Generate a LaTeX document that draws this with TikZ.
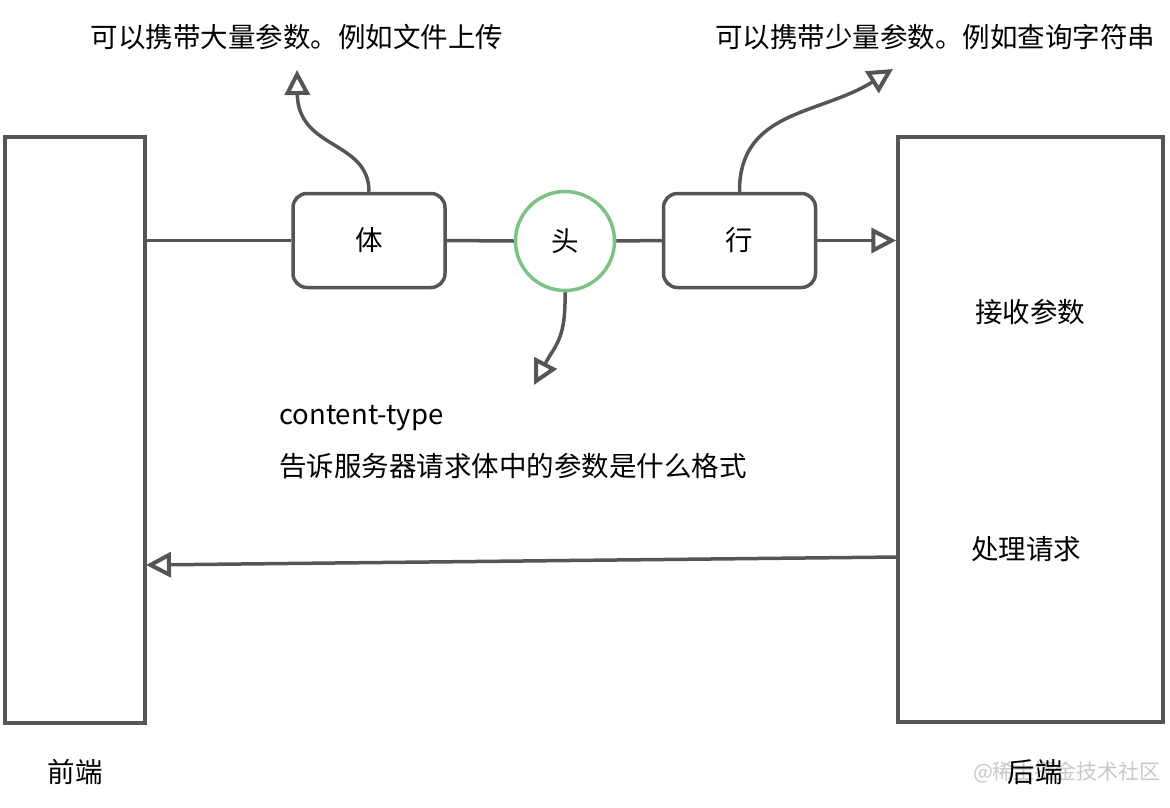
\documentclass[tikz,border=0pt]{standalone}
\usepackage{fontspec}
\setmainfont{Noto Sans CJK SC}
\usepackage{tikz}
\usetikzlibrary{arrows.meta, positioning, calc}
\definecolor{linegray}{RGB}{85, 85, 85}
\definecolor{headgreen}{RGB}{124, 194, 134}
\definecolor{markgray}{RGB}{200, 200, 200}

\begin{document}
\begin{tikzpicture}[
        x=1pt, y=-1pt,
        side/.style={rectangle, draw=linegray, line width=3.5pt, fill=white},
        part/.style={rectangle, draw=linegray, line width=3.5pt, rounded corners=14pt, minimum width=152pt, minimum height=94pt, font=\fontsize{27.5}{32}\selectfont},
        head/.style={circle, draw=headgreen, line width=3.5pt, minimum size=99pt, inner sep=0pt, font=\fontsize{27.5}{32}\selectfont},
        label/.style={font=\fontsize{27.5}{32}\selectfont, inner sep=0pt},
        link/.style={draw=linegray, line width=3.5pt},
        arrow/.style={-{Triangle[open, length=25pt, width=25pt, line width=4pt]}, draw=linegray, line width=3.5pt}
    ]
        \useasboundingbox (0,0) rectangle (1170,807);

        % Nodes
        \node[side, minimum width=140pt, minimum height=586pt] (frontend) at (75,430) {};
        \node[side, minimum width=265pt, minimum height=585pt] (backend) at (1030.5,429.5) {};
        \node[part] (body) at (369,240.5) {体};
        \node[head] (header) at (565,241) {头};
        \node[part] (line) at (739.5,240.5) {行};

        \node[label] (receive) at (1030,312) {接收参数};
        \node[label] (handle) at (1026,549) {处理请求};
        \node[label, anchor=west] (ctype) at (279,418) {content-type};
        \node[label, anchor=west] (ctypenote) at (279,466) {告诉服务器请求体中的参数是什么格式};
        \node[label] (bodynote) at (297,37) {可以携带大量参数。例如文件上传};
        \node[label] (linenote) at (935,37) {可以携带少量参数。例如查询字符串};
        \node[label] (felabel) at (75,772) {前端};
        \node[font=\fontsize{21}{24}\selectfont, text=markgray, inner sep=0pt] (mark) at (1067,772) {@稀土掘金技术社区};
        \node[label] (belabel) at (1035,772) {后端};

        % Free ends of the curved arrows
        \coordinate (bodytip) at (297,70);
        \coordinate (linetip) at (893,69);
        \coordinate (headtip) at (534,385);
        \coordinate (reqstart) at (898,557);
        \coordinate (reqend) at (146,565);

        % Connections
        \draw[link] (frontend.east |- body.west) -- (body.west);
        \draw[link] (body.east) -- (header.west);
        \draw[link] (header.east) -- (line.west);
        \draw[arrow] (line.east) -- (backend.west |- line.east);
        \draw[arrow] (reqstart) -- (reqend);
        \draw[arrow] (body.north) .. controls (369,140) and (298,150) .. (bodytip);
        \draw[arrow] (line.north) .. controls (739,110) and (820,115) .. (linetip);
        \draw[arrow] (header.south) .. controls (566,340) and (555,345) .. (headtip);
    \end{tikzpicture}
\end{document}
